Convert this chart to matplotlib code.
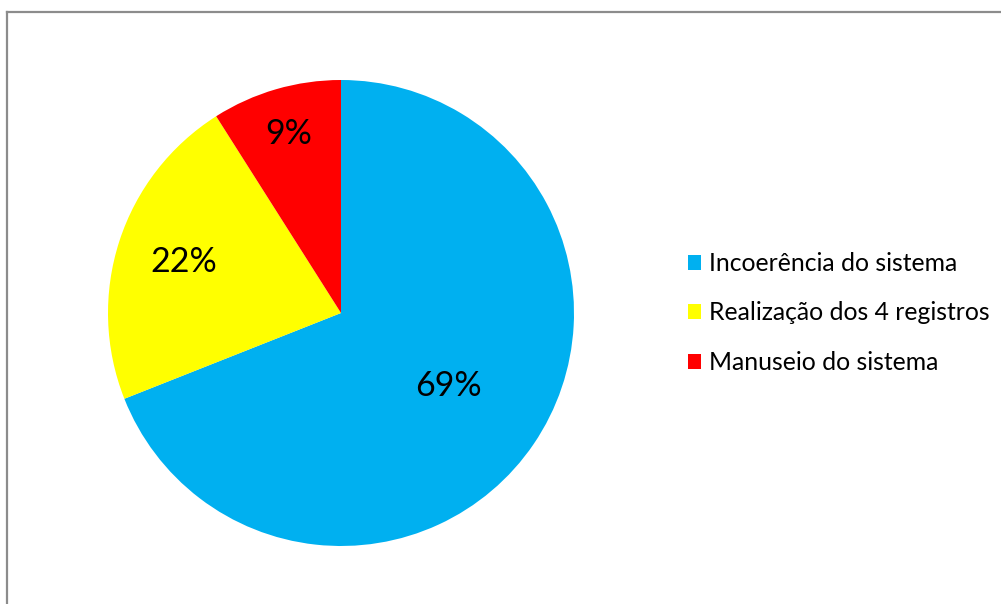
import matplotlib.pyplot as plt
from matplotlib.patches import Patch
from matplotlib.lines import Line2D
import numpy as np

labels = ['Incoerência do sistema', 'Realização dos 4 registros', 'Manuseio do sistema']
values = [69, 22, 9]
colors = ['#00B0F0', '#FFFF00', '#FF0000']
# radial position of each percentage label (fraction of radius)
label_dist = [0.56, 0.71, 0.80]

plt.rcParams['font.family'] = ['Lato', 'DejaVu Sans']

W, H = 1001, 604
fig = plt.figure(figsize=(W / 100, H / 100), dpi=100)

# chart area border (top and left edges visible, right/bottom cut off)
fig.add_artist(Line2D([7 / W, 7 / W], [0, 1 - 12 / H], transform=fig.transFigure,
                      color='#8c8c8c', lw=1.6))
fig.add_artist(Line2D([7 / W, 1], [1 - 12 / H, 1 - 12 / H], transform=fig.transFigure,
                      color='#8c8c8c', lw=1.6))

cx, cy, r = 341, 313, 233
ax = fig.add_axes([(cx - r) / W, (H - cy - r) / H, 2 * r / W, 2 * r / H])
wedges, _ = ax.pie(values, colors=colors, startangle=90, counterclock=False,
                   radius=1, wedgeprops=dict(linewidth=0))
ax.set_xlim(-1, 1)
ax.set_ylim(-1, 1)
ax.set_aspect('equal')
ax.axis('off')

total = sum(values)
for w, v, d in zip(wedges, values, label_dist):
    ang = np.deg2rad((w.theta1 + w.theta2) / 2)
    ax.text(d * np.cos(ang), d * np.sin(ang), f'{round(100 * v / total)}%',
            ha='center', va='center', fontsize=24.5, color='black')

handles = [Patch(facecolor=c, edgecolor='none') for c in colors]
fig.legend(handles, labels, loc='center left', bbox_to_anchor=(678 / W, 1 - 313 / H),
           frameon=False, fontsize=17.8, handlelength=0.55, handleheight=0.55,
           handletextpad=0.3, labelspacing=1.08, borderaxespad=0)

fig.savefig('out.png', dpi=100)
